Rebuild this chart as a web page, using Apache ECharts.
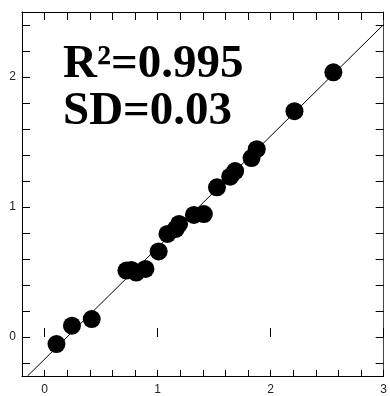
<!DOCTYPE html>
<html>
<head>
<meta charset="utf-8">
<script src="https://cdn.jsdelivr.net/npm/echarts@6/dist/echarts.min.js"></script>
<style>html,body{margin:0;padding:0;background:#fff;}#c{width:390px;height:396px;}</style>
</head>
<body>
<div id="c"></div>
<script>
// Scatter points (x, y)
var pointsX = [0.105, 0.242, 0.417, 0.724, 0.767, 0.811, 0.892, 1.009, 1.087, 1.161, 1.190, 1.321, 1.409, 1.525, 1.642, 1.686, 1.831, 1.877, 2.211, 2.555];
var pointsY = [-0.054, 0.087, 0.138, 0.511, 0.516, 0.496, 0.524, 0.658, 0.793, 0.831, 0.870, 0.939, 0.946, 1.151, 1.233, 1.276, 1.376, 1.445, 1.737, 2.036];
// Fit line endpoints
var lineX = [-0.151, 3.0];
var lineY = [-0.3, 2.404];
// Axis ticks and labels
var xTicks = [-0.2, 0, 0.2, 0.4, 0.6, 0.8, 1, 1.2, 1.4, 1.6, 1.8, 2, 2.2, 2.4, 2.6, 2.8, 3];
var xMajor = [0, 1, 2, 3];
var yTicks = [-0.2, 0, 0.2, 0.4, 0.6, 0.8, 1, 1.2, 1.4, 1.6, 1.8, 2, 2.2, 2.4];
var yMajor = [0, 1, 2];
var annotation = ['R\u00b2=0.995', 'SD=0.03'];

var pts = pointsX.map(function (x, i) { return [x, pointsY[i]]; });
var ln = lineX.map(function (x, i) { return [x, lineY[i]]; });

var chart = echarts.init(document.getElementById('c'), null, {renderer: 'canvas'});
var lbl = {fontFamily: 'Liberation Sans', fontSize: 12, color: '#222'};
function baseAx(extra) {
  return Object.assign({
    type: 'value', splitLine: {show: false},
    axisLine: {show: true, onZero: false, lineStyle: {color: '#000', width: 1}},
  }, extra);
}
chart.setOption({
  animation: false,
  backgroundColor: '#fff',
  grid: {left: 22, right: 3, top: 12, bottom: 19, containLabel: false},
  xAxis: [
    baseAx({position: 'bottom', min: -0.2, max: 3,
      axisTick: {show: true, inside: true, length: 6, customValues: xTicks, lineStyle: {color: '#000'}},
      axisLabel: Object.assign({show: true, margin: 8, customValues: xMajor, formatter: function (v) { return String(Math.round(v)); }}, lbl)}),
    baseAx({position: 'top', min: -0.2, max: 3,
      axisTick: {show: true, inside: true, length: 8, customValues: xTicks, lineStyle: {color: '#000'}},
      axisLabel: {show: false}}),
    baseAx({position: 'bottom', min: -0.2, max: 3, axisLine: {show: false},
      axisTick: {show: true, inside: true, length: 9, customValues: xMajor, lineStyle: {color: '#000'}},
      axisLabel: {show: false}})
  ],
  yAxis: [
    baseAx({position: 'left', min: -0.3, max: 2.5,
      axisTick: {show: true, inside: true, length: 8, customValues: yTicks, lineStyle: {color: '#000'}},
      axisLabel: Object.assign({show: true, margin: 6, customValues: yMajor, formatter: function (v) { return String(Math.round(v)); }}, lbl)}),
    baseAx({position: 'right', min: -0.3, max: 2.5,
      axisLine: {show: true, onZero: false, lineStyle: {color: '#444', width: 1}},
      axisTick: {show: true, inside: true, length: 8, customValues: yTicks, lineStyle: {color: '#000'}},
      axisLabel: {show: false}})
  ],
  series: [
    {type: 'line', data: ln, xAxisIndex: 0, yAxisIndex: 0, symbol: 'none', silent: true,
      lineStyle: {color: '#000', width: 1}, z: 2, clip: true},
    {type: 'scatter', data: pts, xAxisIndex: 0, yAxisIndex: 0, symbol: 'circle', symbolSize: 18,
      itemStyle: {color: '#000', opacity: 1}, z: 3}
  ],
  graphic: [
    {type: 'text', left: 63, top: 41, z: 10, style: {text: annotation[0], font: 'bold 47px "Liberation Serif"', fill: '#000'}},
    {type: 'text', left: 63, top: 88, z: 10, style: {text: annotation[1], font: 'bold 47px "Liberation Serif"', fill: '#000'}}
  ]
});
</script>
</body>
</html>
